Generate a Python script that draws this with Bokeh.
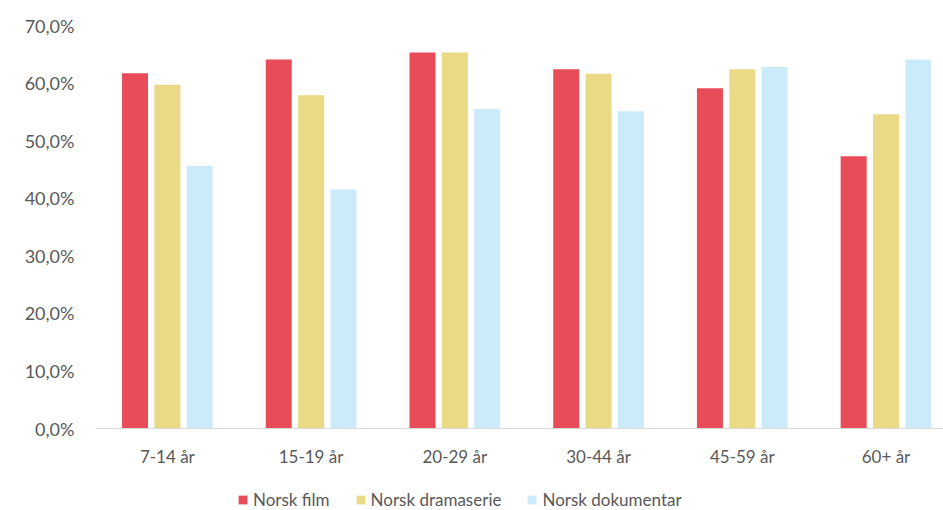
from bokeh.plotting import figure
from bokeh.models import ColumnDataSource, Range1d, FixedTicker, Legend, LegendItem
from bokeh.layouts import column
from bokeh.transform import dodge
from bokeh.embed import file_html
from bokeh.resources import INLINE

categories = ["7-14 år", "15-19 år", "20-29 år", "30-44 år", "45-59 år", "60+ år"]
series_names = ["Norsk film", "Norsk dramaserie", "Norsk dokumentar"]
norsk_film = [61.7, 64.1, 65.3, 62.4, 59.1, 47.3]
norsk_dramaserie = [59.7, 57.9, 65.3, 61.6, 62.4, 54.6]
norsk_dokumentar = [45.6, 41.5, 55.5, 55.1, 62.8, 64.1]
y_ticks = [0, 10, 20, 30, 40, 50, 60, 70]
y_tick_labels = ["0,0%", "10,0%", "20,0%", "30,0%", "40,0%", "50,0%", "60,0%", "70,0%"]

colors = ["#E84C58", "#EADA86", "#CCEBFA"]
text_color = "#595959"
FONT = "Lato"

x_pos = [i + 0.5 for i in range(len(categories))]
source = ColumnDataSource(dict(x=x_pos, film=norsk_film, drama=norsk_dramaserie, dok=norsk_dokumentar))

p = figure(width=943, height=475, output_backend="svg", toolbar_location=None,
           x_range=Range1d(0, 5.90), y_range=Range1d(0, 70),
           min_border_left=95, min_border_right=0, min_border_top=25, min_border_bottom=47)

bar_w = 0.181
offsets = [-0.225, 0.0, 0.225]
fields = ["film", "drama", "dok"]
for f, off, c in zip(fields, offsets, colors):
    p.vbar(x=dodge("x", off, range=p.x_range), top=f, width=bar_w, source=source,
           fill_color=c, line_color=None)

p.outline_line_color = None
p.xgrid.visible = False
p.ygrid.visible = False

p.xaxis.ticker = FixedTicker(ticks=x_pos)
p.xaxis.major_label_overrides = {x: c for x, c in zip(x_pos, categories)}
p.xaxis.axis_line_color = "#D9D9D9"
p.xaxis.axis_line_width = 1
p.xaxis.major_tick_line_color = None
p.xaxis.minor_tick_line_color = None
p.xaxis.major_tick_out = 0
p.xaxis.major_label_standoff = 17
p.xaxis.major_label_text_font = FONT
p.xaxis.major_label_text_font_size = "17px"
p.xaxis.major_label_text_color = text_color

p.yaxis.ticker = FixedTicker(ticks=y_ticks)
p.yaxis.major_label_overrides = {t: l for t, l in zip(y_ticks, y_tick_labels)}
p.yaxis.axis_line_color = None
p.yaxis.major_tick_line_color = None
p.yaxis.minor_tick_line_color = None
p.yaxis.major_tick_out = 0
p.yaxis.major_label_standoff = 21
p.yaxis.major_label_text_font = FONT
p.yaxis.major_label_text_font_size = "18px"
p.yaxis.major_label_text_color = text_color

# legend strip (bars drawn from the same data, but outside its visible ranges)
lf = figure(width=943, height=35, output_backend="svg", toolbar_location=None,
            x_range=Range1d(-20, -19), y_range=Range1d(0, 1),
            min_border_left=0, min_border_right=0, min_border_top=0, min_border_bottom=0)
lf.axis.visible = False
lf.grid.visible = False
lf.outline_line_color = None
leg_renderers = [lf.vbar(x="x", top=f, width=bar_w, source=source, fill_color=c, line_color=None)
                 for f, c in zip(fields, colors)]
legend = Legend(items=[LegendItem(label=n, renderers=[r]) for n, r in zip(series_names, leg_renderers)],
                orientation="horizontal", location=(142, 0),
                padding=0, margin=0, spacing=25, glyph_width=11, glyph_height=11,
                label_standoff=5, border_line_color=None, background_fill_alpha=0,
                label_text_font=FONT, label_text_font_size="17px", label_text_color=text_color)
lf.add_layout(legend, "center")

layout = column(p, lf, spacing=0)
open("out.html", "w").write(file_html(layout, INLINE))
